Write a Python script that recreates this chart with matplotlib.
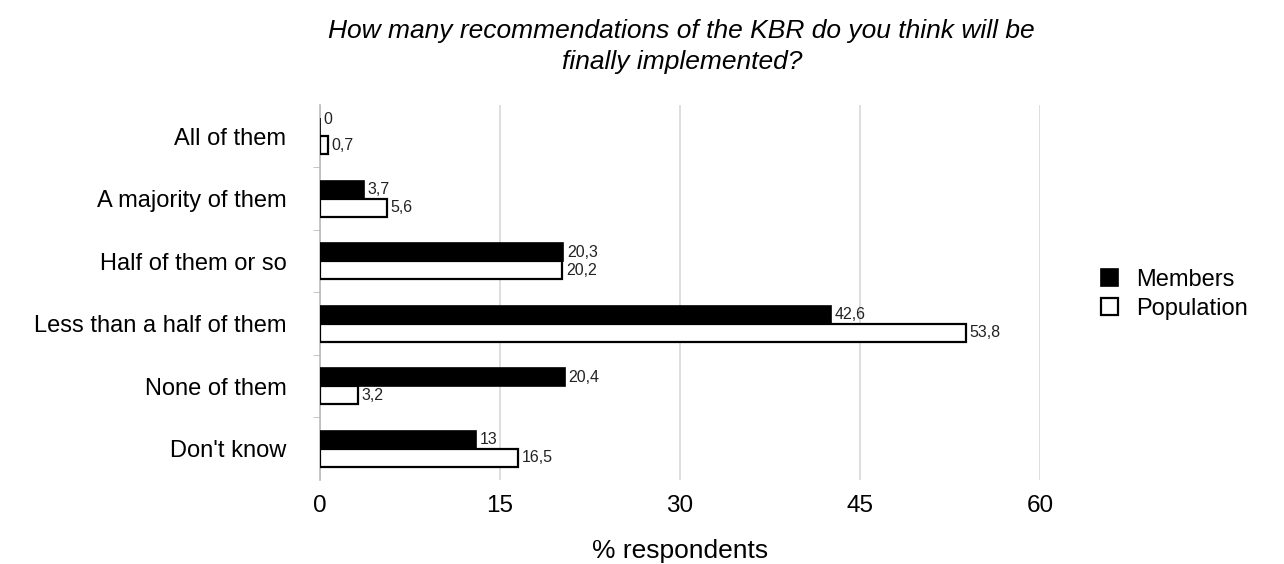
import matplotlib
matplotlib.use('agg')
import matplotlib.pyplot as plt
import numpy as np

plt.rcParams['font.family'] = ['Liberation Sans', 'DejaVu Sans']

categories = ["All of them", "A majority of them", "Half of them or so",
              "Less than a half of them", "None of them", "Don't know"]
members = [0, 3.7, 20.3, 42.6, 20.4, 13]
population = [0.7, 5.6, 20.2, 53.8, 3.2, 16.5]
xticks = [0, 15, 30, 45, 60]


def fmt(v):
    s = ('%g' % v).replace('.', ',')
    return s


fig = plt.figure(figsize=(12.84, 5.64), dpi=100)
ax = fig.add_axes([0.249, 0.149, 0.561, 0.665])

y = np.arange(len(categories))
h = 0.29
ax.barh(y - h / 2, members, h, color='black', edgecolor='black', linewidth=1.2,
        label='Members', zorder=3)
ax.barh(y + h / 2, population, h, color='white', edgecolor='black', linewidth=1.6,
        label='Population', zorder=3)

for i in range(len(categories)):
    ax.text(members[i] + 0.3, y[i] - h / 2 - (0.12 if members[i] == 0 else 0), fmt(members[i]),
            va='center', ha='left', fontsize=11.5, color='#222222')
    ax.text(population[i] + 0.3, y[i] + h / 2, fmt(population[i]),
            va='center', ha='left', fontsize=11.5, color='#222222')

ax.set_ylim(len(categories) - 0.5, -0.5)
ax.set_xlim(0, 60)
ax.set_yticks(y)
ax.set_yticklabels(categories, fontsize=17)
ax.set_yticks(np.arange(0.5, len(categories) - 1, 1), minor=True)
ax.tick_params(axis='y', which='major', length=0, pad=24)
ax.tick_params(axis='y', which='minor', length=5, color='#bbbbbb')
ax.set_xticks(xticks)
ax.set_xticklabels([str(t) for t in xticks], fontsize=17.5)
ax.tick_params(axis='x', length=0, pad=11)
ax.xaxis.grid(True, color='#d8d8d8', linewidth=1.2, zorder=0)
ax.set_axisbelow(True)
for s in ['top', 'right', 'bottom']:
    ax.spines[s].set_visible(False)
ax.spines['left'].set_color('#bbbbbb')
ax.spines['left'].set_linewidth(1.2)

ax.set_xlabel('% respondents', fontsize=19, labelpad=16)
fig.text(0.531, 0.966, 'How many recommendations of the KBR do you think will be\nfinally implemented?',
         ha='center', va='top', fontsize=19, style='italic', linespacing=1.35)

fig.legend(loc='center left', bbox_to_anchor=(0.841, 0.478), frameon=False, fontsize=17,
           handlelength=0.7, handleheight=0.7, handletextpad=0.8, labelspacing=0.3)

plt.savefig('out.png', dpi=100)
plt.close()
